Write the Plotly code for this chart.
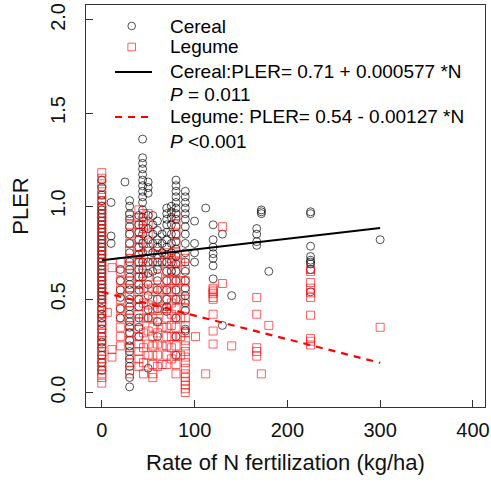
import plotly.graph_objects as go

# ---------------- data ----------------
cereal_levels = [0, 10, 20, 25, 30, 40, 44, 50, 55, 60, 65, 70, 75, 80, 90,
                 100, 112, 120, 130, 140, 167, 172, 180, 225, 300]
cereal_pler = [
    [1.14, 1.10, 1.06, 1.03, 1.00, 0.98, 0.96, 0.94, 0.92, 0.90, 0.88, 0.86, 0.84, 0.82,
     0.80, 0.78, 0.76, 0.74, 0.72, 0.70, 0.68, 0.66, 0.64, 0.62, 0.60, 0.58, 0.56, 0.54,
     0.52, 0.50, 0.48, 0.45, 0.42, 0.40, 0.37, 0.34, 0.30, 0.27, 0.24, 0.20, 0.16, 0.12],
    [1.02, 0.84, 0.80],
    [0.55, 0.51, 0.45, 0.40, 0.66, 0.60],
    [1.13],
    [1.03, 1.00, 0.96, 0.93, 0.89, 0.85, 0.80, 0.75, 0.70, 0.66, 0.62, 0.58, 0.55, 0.50,
     0.46, 0.42, 0.38, 0.35, 0.32, 0.28, 0.25, 0.22, 0.18, 0.14, 0.08, 0.03],
    [0.95, 0.90, 0.86, 0.82, 0.78, 0.74, 0.70, 0.66, 0.62, 0.58, 0.55, 0.50, 0.46, 0.40,
     0.35, 0.30],
    [1.36, 1.26, 1.23, 1.20, 1.17, 1.14, 1.11, 1.08, 1.05, 1.02, 0.98, 0.94, 0.90, 0.85,
     0.80, 0.75, 0.70, 0.66, 0.62],
    [1.13, 1.10, 1.07, 0.95, 0.88, 0.82, 0.76, 0.70, 0.64, 0.58, 0.52, 0.445, 0.40, 0.13],
    [0.95, 0.90, 0.85, 0.80, 0.75, 0.70, 0.65],
    [0.92, 0.87, 0.82, 0.78, 0.74, 0.70, 0.66, 0.60, 0.55, 0.50, 0.45, 0.38, 0.30],
    [0.85, 0.80, 0.75, 0.70],
    [0.99, 0.96, 0.93, 0.90, 0.86, 0.82, 0.78, 0.74, 0.70, 0.65, 0.60, 0.55, 0.50, 0.46,
     0.435],
    [1.00, 0.97, 0.94, 0.90, 0.85, 0.80, 0.75, 0.70, 0.65],
    [1.14, 1.11, 1.08, 1.05, 1.02, 0.99, 0.96, 0.93, 0.89, 0.85, 0.81, 0.77, 0.73, 0.69,
     0.65, 0.60, 0.55, 0.50, 0.40, 0.30, 0.20],
    [1.08, 1.05, 1.02, 0.99, 0.96, 0.93, 0.89, 0.85, 0.80, 0.75, 0.70, 0.65, 0.60, 0.56,
     0.52, 0.48, 0.44, 0.34, 0.33],
    [0.92, 0.80, 0.75, 0.70],
    [0.99],
    [0.90, 0.82, 0.78, 0.745, 0.72, 0.68, 0.61],
    [0.85, 0.36],
    [0.52],
    [0.88, 0.85, 0.81, 0.79],
    [0.98, 0.97, 0.96],
    [0.65],
    [0.97, 0.96, 0.785, 0.73, 0.71, 0.70, 0.69, 0.66, 0.54],
    [0.82],
]

legume_levels = [0, 6, 11, 20, 30, 40, 45, 50, 55, 60, 65, 70, 75, 80, 85, 90,
                 101, 112, 120, 130, 140, 167, 172, 180, 225, 300]
legume_pler = [
    [1.18, 1.15, 1.12, 1.09, 1.06, 1.03, 1.00, 0.98, 0.96, 0.94, 0.92, 0.90, 0.88, 0.86,
     0.84, 0.82, 0.80, 0.78, 0.76, 0.74, 0.72, 0.70, 0.68, 0.66, 0.64, 0.62, 0.60, 0.58,
     0.56, 0.54, 0.52, 0.50, 0.48, 0.46, 0.44, 0.42, 0.40, 0.38, 0.36, 0.34, 0.32, 0.30,
     0.28, 0.26, 0.24, 0.22, 0.20, 0.18, 0.16, 0.14, 0.12, 0.10, 0.08, 0.05],
    [0.43],
    [0.67, 0.23, 0.19],
    [0.70, 0.65, 0.60, 0.55, 0.50, 0.45, 0.40, 0.35, 0.30, 0.25],
    [0.95, 0.90, 0.85, 0.80, 0.76, 0.72, 0.68, 0.64, 0.60, 0.56, 0.52, 0.48, 0.44, 0.40,
     0.36, 0.32, 0.28, 0.24, 0.20, 0.16, 0.12, 0.10],
    [0.98, 0.94, 0.90, 0.86, 0.82, 0.78, 0.74, 0.70, 0.66, 0.62, 0.58, 0.54, 0.50, 0.46,
     0.42, 0.38, 0.34, 0.30, 0.26, 0.22, 0.18, 0.14],
    [0.96, 0.92, 0.88, 0.80, 0.72, 0.64, 0.56, 0.48, 0.40, 0.32, 0.24, 0.16, 0.10],
    [0.96, 0.90, 0.85, 0.78, 0.70, 0.62, 0.55, 0.47, 0.40, 0.33, 0.26, 0.20],
    [0.56, 0.50, 0.45, 0.40, 0.35, 0.30, 0.25, 0.20, 0.15, 0.10, 0.08],
    [0.80, 0.74, 0.68, 0.62, 0.56, 0.50, 0.44, 0.38, 0.32, 0.26, 0.20, 0.14],
    [0.55, 0.45, 0.35, 0.25, 0.15],
    [0.75, 0.70, 0.65, 0.60, 0.55, 0.50, 0.45, 0.40, 0.35, 0.30, 0.25, 0.20, 0.15],
    [0.72, 0.66, 0.60, 0.54, 0.48, 0.42, 0.36, 0.30, 0.24, 0.18],
    [0.95, 0.90, 0.85, 0.80, 0.75, 0.70, 0.65, 0.60, 0.55, 0.50, 0.45, 0.40, 0.35, 0.30,
     0.25, 0.20, 0.15, 0.10],
    [0.70, 0.60, 0.50, 0.40, 0.30, 0.20],
    [0.72, 0.66, 0.60, 0.55, 0.50, 0.45, 0.40, 0.36, 0.32, 0.28, 0.25, 0.22, 0.19, 0.16,
     0.13, 0.10, 0.08, 0.06, 0.04, 0.02, 0.00],
    [0.30],
    [0.10],
    [0.56, 0.55, 0.54, 0.53, 0.51, 0.50, 0.42, 0.33, 0.26],
    [0.89, 0.585],
    [0.25],
    [0.51, 0.42, 0.24, 0.22, 0.195],
    [0.10],
    [0.36],
    [0.66, 0.65, 0.59, 0.56, 0.535, 0.51, 0.415, 0.29, 0.275, 0.255],
    [0.35],
]

# regression coefficients (from the legend)
cereal_fit = (0.71, 0.000577)
legume_fit = (0.54, -0.00127)
fit_N_range = [0, 300]

x_ticks = [0, 100, 200, 300, 400]
y_ticks = [0.0, 0.5, 1.0, 1.5, 2.0]
y_tick_labels = ["0.0", "0.5", "1.0", "1.5", "2.0"]

legend_texts = [
    "Cereal",
    "Legume",
    "Cereal:PLER= 0.71 + 0.000577 *N",
    "<i>P</i> = 0.011",
    "Legume: PLER= 0.54 - 0.00127 *N",
    "<i>P</i> <0.001",
]

# ---------------- build flat series ----------------
def flatten(levels, groups):
    xs, ys = [], []
    for lv, g in zip(levels, groups):
        for v in g:
            xs.append(lv)
            ys.append(v)
    return xs, ys

cx, cy = flatten(cereal_levels, cereal_pler)
lx, ly = flatten(legume_levels, legume_pler)

FONT = "Liberation Sans, Arial, sans-serif"
BLACK_M = "rgba(0,0,0,0.68)"
RED_M = "rgba(255,0,0,0.62)"

fig = go.Figure()
fig.add_trace(go.Scatter(
    x=cx, y=cy, mode="markers", name="Cereal",
    marker=dict(symbol="circle-open", size=8, color=BLACK_M, line=dict(width=1, color=BLACK_M)),
    showlegend=False))
fig.add_trace(go.Scatter(
    x=lx, y=ly, mode="markers", name="Legume",
    marker=dict(symbol="square-open", size=8, color=RED_M, line=dict(width=1, color=RED_M)),
    showlegend=False))

fig.add_trace(go.Scatter(
    x=fit_N_range, y=[cereal_fit[0] + cereal_fit[1] * n for n in fit_N_range],
    mode="lines", line=dict(color="black", width=2), showlegend=False))
fig.add_trace(go.Scatter(
    x=fit_N_range, y=[legume_fit[0] + legume_fit[1] * n for n in fit_N_range],
    mode="lines", line=dict(color="#ff0000", width=2.2, dash="7px,6px"), showlegend=False))

# ---------------- layout ----------------
W, H = 491, 483
L, R, T, B = 86, 6, 5, 76
PW, PH = W - L - R, H - T - B

def px_x(p):
    return (p - L) / PW

def px_y(p):
    return (H - B - p) / PH

annotations = []
shapes = []
text_left = 168
text_rows = [26, 47, 72, 95, 117, 142]
for txt, yy in zip(legend_texts, text_rows):
    annotations.append(dict(
        x=px_x(text_left), y=px_y(yy), xref="paper", yref="paper",
        xanchor="left", yanchor="middle", text=txt, showarrow=False,
        font=dict(family=FONT, size=19, color="black")))

sym_x = 131.7
r = 3.8
shapes.append(dict(type="circle", xref="paper", yref="paper",
                   x0=px_x(sym_x - r), x1=px_x(sym_x + r),
                   y0=px_y(26 + r), y1=px_y(26 - r),
                   line=dict(color=BLACK_M, width=1)))
shapes.append(dict(type="rect", xref="paper", yref="paper",
                   x0=px_x(sym_x - r), x1=px_x(sym_x + r),
                   y0=px_y(47 + r), y1=px_y(47 - r),
                   line=dict(color=RED_M, width=1)))
shapes.append(dict(type="line", xref="paper", yref="paper",
                   x0=px_x(115), x1=px_x(152), y0=px_y(72), y1=px_y(72),
                   line=dict(color="black", width=2)))
shapes.append(dict(type="line", xref="paper", yref="paper",
                   x0=px_x(115), x1=px_x(152), y0=px_y(117), y1=px_y(117),
                   line=dict(color="#ff0000", width=2.2, dash="7px,6px")))

axis_common = dict(
    showline=True, linecolor="#333333", linewidth=1, mirror=True,
    ticks="inside", ticklen=7, tickcolor="#333333", tickwidth=1,
    showgrid=False, zeroline=False,
    tickfont=dict(family=FONT, size=20, color="#111111"),
)

fig.update_layout(
    width=W, height=H,
    margin=dict(l=L, r=R, t=T, b=B, autoexpand=False),
    paper_bgcolor="white", plot_bgcolor="white",
    showlegend=False,
    xaxis=dict(range=[-17, 413], tickvals=x_ticks,
               title=dict(text="Rate of N fertilization (kg/ha)", standoff=14,
                          font=dict(family=FONT, size=22, color="#111111")),
               ticklabelstandoff=5, **axis_common),
    yaxis=dict(range=[-0.078, 2.08], tickvals=y_ticks, ticktext=y_tick_labels,
               tickangle=-90,
               title=dict(text="PLER", standoff=12,
                          font=dict(family=FONT, size=22, color="#111111")),
               ticklabelstandoff=12, **axis_common),
    annotations=annotations, shapes=shapes,
)

fig.write_html("out.html")
